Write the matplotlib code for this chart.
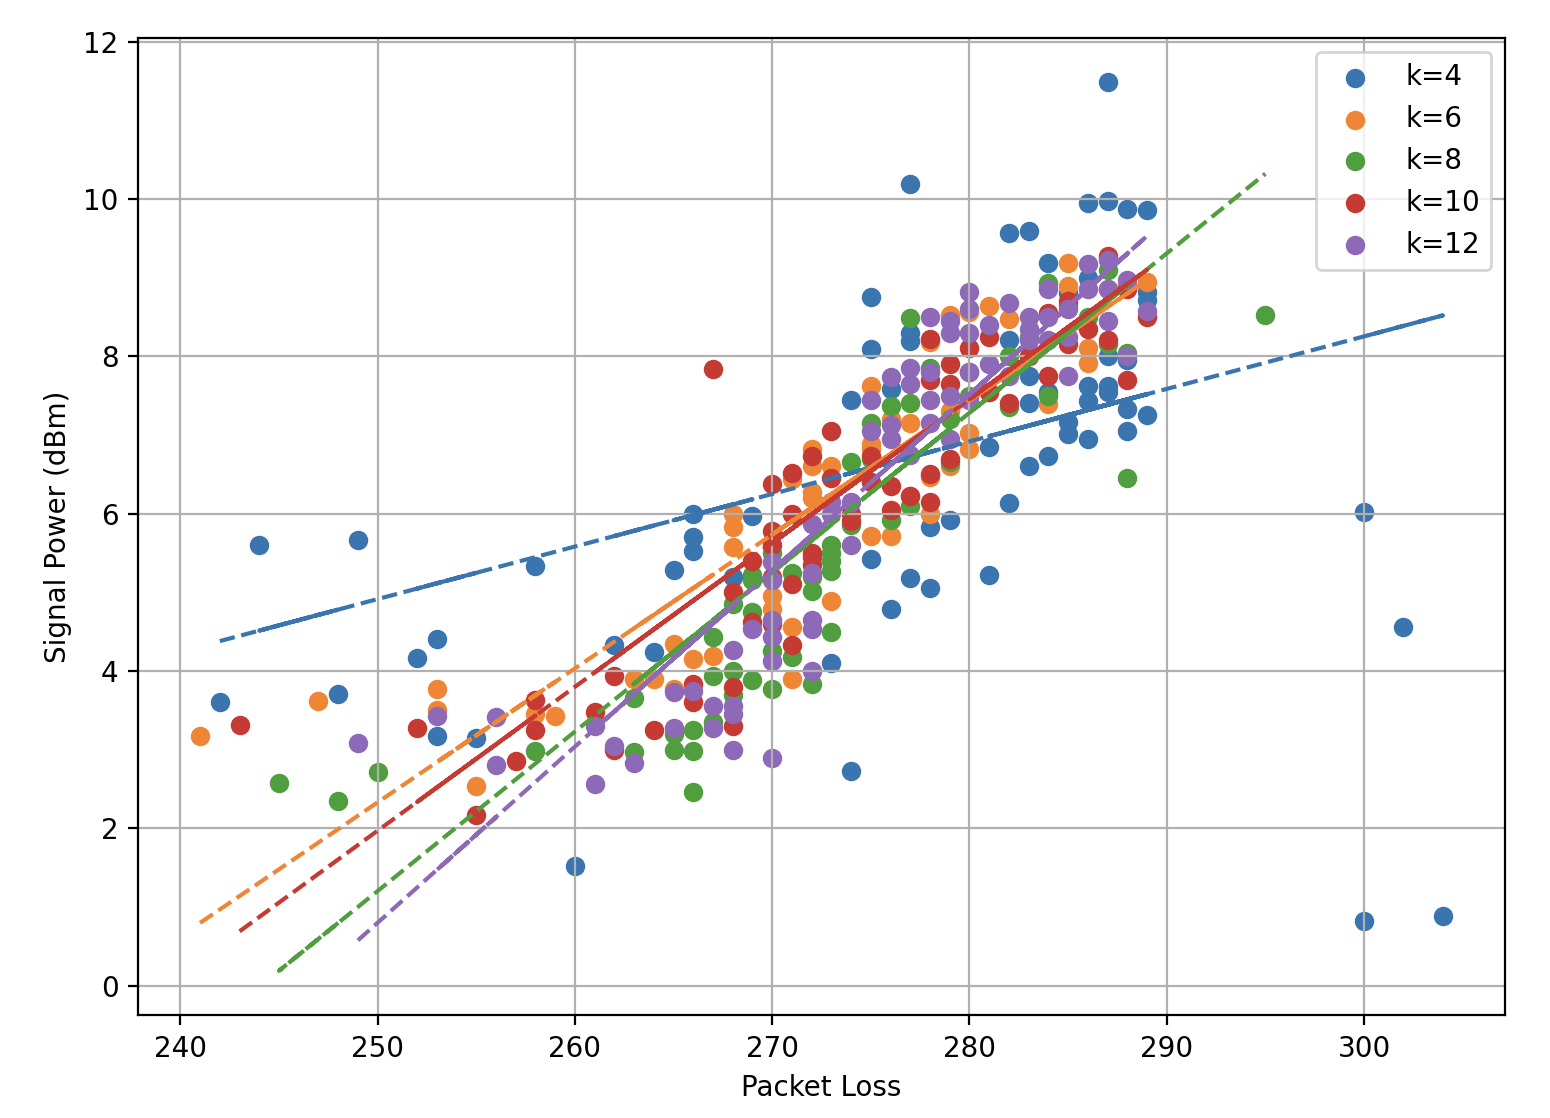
import matplotlib
matplotlib.use("Agg")
import matplotlib.pyplot as plt
import numpy as np

# k=4
x_k4 = [242, 244, 248, 249, 252, 253, 253, 255, 258, 260, 262, 264, 265, 266, 266, 266,
        268, 269, 273, 274, 274, 275, 275, 275, 276, 276, 277, 277, 277, 277, 278, 278,
        279, 281, 281, 282, 282, 282, 283, 283, 283, 283, 284, 284, 284, 285, 285, 285,
        286, 286, 286, 286, 286, 287, 287, 287, 287, 287, 288, 288, 288, 288,
        289, 289, 289, 289, 300, 300, 302, 304]
y_k4 = [3.60, 5.60, 3.71, 5.67, 4.17, 4.40, 3.17, 3.15, 5.33, 1.52, 4.33, 4.24, 5.28, 5.99, 5.70, 5.52,
        5.19, 5.97, 4.10, 7.45, 2.73, 8.75, 8.09, 5.42, 7.58, 4.79, 10.19, 8.30, 8.19, 5.18, 5.83, 5.05,
        5.92, 6.85, 5.22, 9.56, 6.14, 8.20, 9.59, 7.75, 7.40, 6.60, 9.19, 6.73, 7.55, 7.16, 7.01, 8.80,
        9.95, 9.00, 7.62, 7.43, 6.95, 11.48, 9.97, 7.62, 7.55, 8.00, 9.87, 7.33, 7.05, 7.95,
        9.86, 8.82, 8.72, 7.25, 6.02, 0.82, 4.56, 0.88]

# k=6
x_k6 = [241, 247, 253, 253, 255, 258, 259, 263, 264, 265, 265, 266, 267, 268, 268, 268,
        270, 270, 271, 271, 271, 272, 272, 272, 272, 273, 273, 275, 275, 275, 275, 276,
        276, 277, 277, 278, 278, 278, 279, 279, 279, 280, 280, 280, 281, 282, 283, 284,
        285, 285, 286, 286, 287, 288, 289]
y_k6 = [3.17, 3.62, 3.77, 3.50, 2.54, 3.45, 3.43, 3.90, 3.90, 4.34, 3.77, 4.15, 4.19, 5.99, 5.83, 5.57,
        4.95, 4.79, 4.56, 3.90, 6.44, 6.82, 6.60, 6.27, 6.20, 6.60, 4.89, 7.62, 6.88, 6.82, 5.71, 5.71,
        7.20, 6.22, 7.15, 8.18, 6.47, 6.00, 8.53, 6.60, 7.30, 8.56, 7.03, 6.82, 8.64, 8.47, 8.00, 7.39,
        9.19, 8.89, 7.92, 8.10, 8.85, 8.90, 8.94]

# k=8
x_k8 = [245, 248, 250, 258, 263, 263, 265, 265, 266, 266, 266, 267, 267, 267, 268, 268,
        268, 269, 269, 269, 269, 270, 270, 270, 271, 271, 272, 272, 272, 273, 273, 273,
        273, 273, 274, 274, 275, 275, 276, 276, 277, 277, 277, 278, 279, 279, 280, 281,
        282, 282, 283, 284, 284, 285, 286, 287, 287, 288, 288, 295]
y_k8 = [2.57, 2.35, 2.71, 2.98, 3.65, 2.97, 3.00, 3.20, 2.46, 3.25, 2.98, 4.43, 3.35, 3.93, 4.00, 3.70,
        4.85, 3.88, 4.75, 5.22, 5.15, 3.77, 4.25, 5.50, 4.18, 5.25, 3.84, 5.02, 5.20, 4.50, 5.27, 5.40,
        5.50, 5.60, 6.65, 5.85, 7.15, 6.70, 7.37, 5.92, 8.48, 7.40, 6.10, 7.85, 6.65, 7.20, 7.50, 7.55,
        7.35, 8.00, 8.25, 8.93, 7.50, 8.65, 8.50, 9.10, 8.15, 8.04, 6.45, 8.52]

# k=10
x_k10 = [243, 252, 255, 257, 258, 258, 261, 262, 262, 264, 266, 266, 267, 268, 268, 268,
         269, 269, 270, 270, 270, 270, 270, 271, 271, 271, 271, 272, 272, 272, 272, 273,
         273, 274, 274, 275, 275, 276, 276, 277, 278, 278, 278, 278, 279, 279, 279, 280,
         280, 281, 281, 282, 283, 284, 284, 285, 285, 286, 287, 287, 288, 288, 289]
y_k10 = [3.31, 3.28, 2.17, 2.85, 3.63, 3.25, 3.48, 3.93, 3.00, 3.25, 3.84, 3.60, 7.84, 3.80, 5.00, 3.30,
         5.40, 4.62, 6.38, 5.78, 5.60, 5.20, 4.60, 6.52, 6.00, 5.10, 4.33, 6.73, 5.45, 5.35, 5.50, 7.05,
         6.45, 6.00, 5.90, 6.73, 6.40, 6.35, 6.05, 6.22, 8.22, 7.70, 6.50, 6.15, 7.65, 7.90, 6.70, 7.80,
         8.10, 8.25, 7.55, 7.40, 8.00, 7.75, 8.55, 8.70, 8.15, 8.35, 9.27, 8.20, 8.85, 7.70, 8.50]

# k=12
x_k12 = [249, 253, 256, 256, 261, 261, 262, 263, 265, 265, 266, 267, 267, 268, 268, 268,
         268, 269, 270, 270, 270, 270, 270, 270, 272, 272, 272, 272, 272, 273, 273, 274,
         274, 275, 275, 276, 276, 276, 277, 277, 277, 278, 278, 278, 278, 279, 279, 279,
         279, 280, 280, 280, 280, 280, 281, 281, 282, 282, 283, 283, 283, 284, 284, 284,
         285, 285, 285, 286, 286, 287, 287, 287, 288, 288, 289]
y_k12 = [3.09, 3.43, 3.42, 2.81, 3.30, 2.56, 3.05, 2.83, 3.73, 3.28, 3.75, 3.28, 3.55, 4.27, 3.55, 3.45,
         2.99, 4.53, 5.38, 5.15, 4.65, 4.43, 4.13, 2.90, 5.87, 5.25, 4.65, 4.53, 4.00, 6.00, 6.15, 5.60,
         6.15, 7.45, 7.05, 7.73, 7.13, 6.95, 7.85, 7.65, 6.75, 8.50, 7.80, 7.45, 7.15, 8.45, 8.30, 7.50,
         6.95, 8.82, 8.60, 8.30, 7.80, 7.45, 8.40, 7.90, 8.68, 7.75, 8.50, 8.35, 8.20, 8.85, 8.50, 8.20,
         8.60, 8.25, 7.75, 9.17, 8.85, 9.22, 8.85, 8.45, 8.97, 8.00, 8.57]

labels = ["k=4", "k=6", "k=8", "k=10", "k=12"]
xs = [x_k4, x_k6, x_k8, x_k10, x_k12]
ys = [y_k4, y_k6, y_k8, y_k10, y_k12]
# fitted line (slope, intercept)
slopes = [0.06677, 0.1702, 0.2026, 0.1828, 0.2238]
intercepts = [-11.779, -40.22, -49.447, -43.73, -55.15]
colors = ["#3a75af", "#ef8636", "#519e3e", "#c53a32", "#8d69b8"]

fig, ax = plt.subplots(figsize=(7.75, 5.59), dpi=200)
fig.subplots_adjust(left=0.089, right=0.971, bottom=0.092, top=0.966)

for x, y, m, b, c, lab in zip(xs, ys, slopes, intercepts, colors, labels):
    x = np.array(x)
    y = np.array(y)
    ax.scatter(x, y, color=c, label=lab)
    # unsorted x -> dashes overlap where points are dense
    order = np.lexsort((y, x // 10))
    ax.plot(x[order], m * x[order] + b, "--", color=c)

ax.set_xlabel("Packet Loss")
ax.set_ylabel("Signal Power (dBm)")
ax.grid(True)
ax.legend(loc="upper right")

fig.savefig("out.png", dpi=200)
